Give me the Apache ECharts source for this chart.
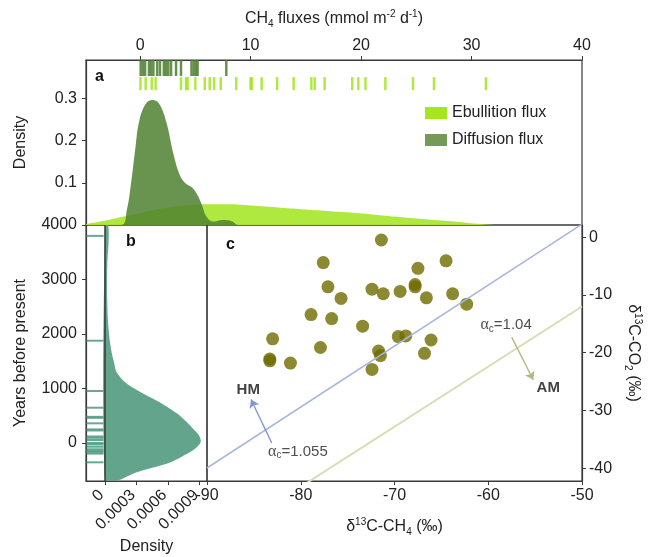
<!DOCTYPE html>
<html>
<head>
<meta charset="utf-8">
<script src="https://cdn.jsdelivr.net/npm/echarts@6/dist/echarts.min.js"></script>
<style>
  html, body { margin: 0; padding: 0; background: #fff; }
  #chart { width: 652px; height: 557px; }
</style>
</head>
<body>
<div id="chart"></div>
<script>
// panel a: density of CH4 fluxes
const ebulX = [-4.9, -3, -1.5, 0, 2, 4, 6, 8, 10, 12.7, 15, 18.7, 21, 24.7, 27, 29.3, 31, 32.5, 40];
const ebulY = [0.002, 0.011, 0.02, 0.028, 0.039, 0.046, 0.049, 0.049, 0.046, 0.041, 0.037, 0.03, 0.025, 0.016, 0.011, 0.006, 0.002, 0, 0];
const diffX = [-4.9, -1.7, -1.2, -0.75, -0.45, -0.06, 0.6, 1.2, 1.8, 2.4, 3.0, 3.6, 4.1, 4.7, 5.1, 5.6, 6.0, 6.6, 7.5, 8.3, 8.9, 40];
const diffY = [0, 0, 0.036, 0.114, 0.178, 0.249, 0.29, 0.296, 0.284, 0.241, 0.17, 0.118, 0.099, 0.089, 0.075, 0.047, 0.02, 0.008, 0.012, 0.009, 0, 0];

// rug values (mmol m-2 d-1)
const diffRug = [0.05, 0.25, 0.45, 0.8, 1.0, 1.2, 1.55, 1.8, 2.15, 2.35, 2.55, 2.8, 3.25, 3.7, 4.65, 4.85, 5.05, 5.2, 7.8];
const ebulRug = [0.03, 0.5, 1.05, 1.4, 3.7, 4.16, 4.3, 5.0, 5.85, 6.3, 6.7, 7.3, 8.7, 10.0, 10.1, 11.0, 12.4, 13.9, 15.5, 15.8, 16.7, 19.2, 19.75, 20.4, 22.2, 24.7, 26.6, 31.3];

// panel b: density of ages
const ageYears = [4000, 3700, 3400, 3000, 2600, 2200, 1900, 1650, 1450, 1300, 1100, 900, 750, 550, 400, 300, 150, 20, -130, -250, -370, -460, -560, -690];
const ageDens = [0.00003, 0.000035, 0.000025, 0.00002, 0.000022, 0.00003, 0.000045, 0.000065, 0.00009, 0.00011, 0.0002, 0.00037, 0.00052, 0.00068, 0.00077, 0.00082, 0.00089, 0.00091, 0.00084, 0.00073, 0.0006, 0.00044, 0.00027, 0.00012];
const ageRug = [3800, 1877, 954, 648, 480, 462, 361, 250, 230, 120, 95, 55, 0, -24, -68, -115, -140, -165, -195, -354];

// panel c: isotopes
const ch4 = [-71.4, -77.6, -64.5, -67.5, -77.1, -72.4, -71.2, -69.4, -67.8, -67.8, -75.7, -66.6, -63.8, -62.3, -78.9, -76.7, -73.4, -69.6, -68.8, -66.1, -83.0, -77.9, -71.7, -71.5, -66.8, -83.3, -83.3, -81.1, -72.4];
const co2 = [-0.5, -4.4, -4.1, -5.4, -8.6, -9.0, -9.8, -9.4, -8.2, -8.6, -10.6, -10.5, -9.8, -11.6, -13.4, -14.1, -15.4, -17.2, -17.1, -17.8, -17.6, -19.1, -19.7, -20.5, -20.1, -21.1, -21.4, -21.8, -22.9];
const hmLine = [[-90, -39.95], [-50, 2.25]];
const amLine = [[-80, -43.2], [-50, -12]];
const hmArrow = [[-83.1, -35.6], [-85.3, -28.1]];
const amArrow = [[-57.5, -17.3], [-55.2, -24.7]];
const noteText = ['{b|HM}', '{b|AM}', '{g|α}{sb|c}{n|=1.055}', '{g|α}{sb|c}{n|=1.04}'];
const noteX = [-85.6, -53.6, -80.3, -58.1];
const noteY = [-26.4, -26.0, -37.1, -15.2];

const fluxTicks = [0, 10, 20, 30, 40];
const densTicks = [0.1, 0.2, 0.3];
const yearTicks = [0, 1000, 2000, 3000, 4000];
const ageDensTicks = [0, 0.0003, 0.0006, 0.0009];
const co2Ticks = [0, -10, -20, -30, -40];

const ink = '#222';
const frame = '#3a3a3a';
const zip = (xs, ys) => xs.map((x, i) => [x, ys[i]]);

const nameRich = {
    n: { fontSize: 16, lineHeight: 20, color: ink },
    sb: { fontSize: 10, lineHeight: 10, verticalAlign: 'bottom', color: ink },
    sp: { fontSize: 10, lineHeight: 10, verticalAlign: 'top', color: ink }
};

const axisBase = {
    axisLine: { show: true, onZero: false, lineStyle: { color: frame, width: 1.2 } },
    axisTick: { show: true, length: 4, lineStyle: { color: frame } },
    splitLine: { show: false },
    axisLabel: { color: ink, fontSize: 16 },
    nameTextStyle: { color: ink, fontSize: 16 }
};

const gridStyle = { show: true, borderColor: frame, borderWidth: 1.2, backgroundColor: 'transparent', outerBoundsMode: 'none' };

var chart = echarts.init(document.getElementById('chart'));
var option = {
    animation: false,
    textStyle: { fontFamily: 'Liberation Sans, Arial, sans-serif' },
    grid: [
        Object.assign({ left: 86, top: 60, width: 496, height: 165 }, gridStyle),
        Object.assign({ left: 86, top: 225, width: 121, height: 256 }, gridStyle),
        Object.assign({ left: 207, top: 225, width: 375, height: 256 }, gridStyle)
    ],
    xAxis: [
        Object.assign({}, axisBase, {
            type: 'value', gridIndex: 0, position: 'top', min: -4.9, max: 40,
            axisTick: Object.assign({}, axisBase.axisTick, { customValues: fluxTicks }),
            axisLabel: Object.assign({}, axisBase.axisLabel, { customValues: fluxTicks, margin: 6 }),
            name: '{n|CH}{sb|4}{n| fluxes (mmol m}{sp|-2}{n| d}{sp|-1}{n|)}',
            nameLocation: 'middle', nameGap: 31,
            nameTextStyle: { rich: nameRich }
        }),
        Object.assign({}, axisBase, {
            type: 'value', gridIndex: 1, min: -0.00018, max: 0.00097,
            axisTick: Object.assign({}, axisBase.axisTick, { customValues: ageDensTicks }),
            axisLabel: Object.assign({}, axisBase.axisLabel, {
                customValues: ageDensTicks, rotate: 45, margin: 8, padding: [0, 5, 0, 0],
                formatter: v => v === 0 ? '0' : v.toFixed(4)
            }),
            name: 'Density', nameLocation: 'middle', nameGap: 58
        }),
        Object.assign({}, axisBase, {
            type: 'value', gridIndex: 2, min: -90, max: -50, interval: 10,
            axisLabel: Object.assign({}, axisBase.axisLabel, { margin: 7 }),
            name: '{n|δ}{sp|13}{n|C-CH}{sb|4}{n| (‰)}',
            nameLocation: 'middle', nameGap: 36,
            nameTextStyle: { rich: nameRich }
        })
    ],
    yAxis: [
        Object.assign({}, axisBase, {
            type: 'value', gridIndex: 0, min: 0, max: 0.391,
            axisTick: Object.assign({}, axisBase.axisTick, { customValues: densTicks }),
            axisLabel: Object.assign({}, axisBase.axisLabel, { customValues: densTicks, margin: 9 }),
            name: 'Density', nameLocation: 'middle', nameGap: 57
        }),
        Object.assign({}, axisBase, {
            type: 'value', gridIndex: 1, min: -697, max: 4000,
            axisTick: Object.assign({}, axisBase.axisTick, { customValues: yearTicks }),
            axisLabel: Object.assign({}, axisBase.axisLabel, {
                customValues: yearTicks, margin: 9,
                formatter: v => String(v)
            }),
            name: 'Years before present', nameLocation: 'middle', nameGap: 57
        }),
        Object.assign({}, axisBase, {
            type: 'value', gridIndex: 2, position: 'right', min: -42.2, max: 2.1,
            axisTick: Object.assign({}, axisBase.axisTick, { customValues: co2Ticks }),
            axisLabel: Object.assign({}, axisBase.axisLabel, { customValues: co2Ticks, margin: 7 }),
            name: '{n|δ}{sp|13}{n|C-CO}{sb|2}{n| (‰)}',
            nameLocation: 'middle', nameGap: 40, nameRotate: -90,
            nameTextStyle: { rich: nameRich }
        })
    ],
    legend: {
        left: 420, top: 100, orient: 'vertical',
        itemWidth: 22, itemHeight: 12, itemGap: 11,
        icon: 'rect',
        textStyle: { color: ink, fontSize: 16 },
        data: [
            { name: 'Ebullition flux', itemStyle: { color: '#a6e61e' } },
            { name: 'Diffusion flux', itemStyle: { color: '#76995a' } }
        ],
        selectedMode: false
    },
    graphic: [
        { type: 'text', left: 95, top: 69, style: { text: 'a', font: 'bold 16px Liberation Sans', fill: '#111' } },
        { type: 'text', left: 126, top: 234, style: { text: 'b', font: 'bold 16px Liberation Sans', fill: '#111' } },
        { type: 'text', left: 226, top: 237, style: { text: 'c', font: 'bold 16px Liberation Sans', fill: '#111' } }
    ],
    series: [
        {
            name: 'Ebullition flux', type: 'line', xAxisIndex: 0, yAxisIndex: 0,
            data: zip(ebulX, ebulY), smooth: 0.4, showSymbol: false, silent: true,
            itemStyle: { color: '#a6e61e' },
            lineStyle: { width: 0 },
            areaStyle: { color: '#abe835', opacity: 0.95 }
        },
        {
            name: 'Diffusion flux', type: 'line', xAxisIndex: 0, yAxisIndex: 0,
            data: zip(diffX, diffY), smooth: 0.4, showSymbol: false, silent: true,
            itemStyle: { color: '#76995a' },
            lineStyle: { width: 0 },
            areaStyle: { color: '#4f8130', opacity: 0.85 }
        },
        {
            type: 'scatter', xAxisIndex: 0, yAxisIndex: 0, silent: true,
            symbol: 'rect', symbolSize: [2.5, 16],
            itemStyle: { color: '#4e7d30', opacity: 0.85 },
            data: diffRug.map(v => [v, 0.372])
        },
        {
            type: 'scatter', xAxisIndex: 0, yAxisIndex: 0, silent: true,
            symbol: 'rect', symbolSize: [2.5, 13],
            itemStyle: { color: '#9ee313' },
            data: ebulRug.map(v => [v, 0.335])
        },
        {
            type: 'custom', xAxisIndex: 1, yAxisIndex: 1, silent: true, clip: true,
            data: [[0, 0]],
            renderItem: function (params, api) {
                const pts = ageDens.map((d, i) => api.coord([d, ageYears[i]]));
                pts.push(api.coord([0, ageYears[ageYears.length - 1]]));
                pts.push(api.coord([0, ageYears[0]]));
                return {
                    type: 'polygon',
                    shape: { points: pts, smooth: 0.3 },
                    style: { fill: '#62a58c' }
                };
            }
        },
        {
            type: 'scatter', xAxisIndex: 1, yAxisIndex: 1, silent: true,
            symbol: 'rect', symbolSize: [17, 2],
            itemStyle: { color: '#4f9a80', opacity: 0.85 },
            data: ageRug.map(v => [-0.000094, v]),
            markLine: {
                silent: true, symbol: 'none', label: { show: false },
                lineStyle: { color: frame, width: 1.5, type: 'solid' },
                data: [{ xAxis: 0 }]
            }
        },
        {
            type: 'line', xAxisIndex: 2, yAxisIndex: 2, silent: true,
            data: hmLine, showSymbol: false,
            lineStyle: { color: '#a9b5dd', width: 1.5 },
            markLine: {
                silent: true, symbol: ['none', 'arrow'], symbolSize: 8, label: { show: false },
                lineStyle: { color: '#8196cc', width: 1.3, type: 'solid' },
                data: [[{ coord: hmArrow[0] }, { coord: hmArrow[1] }]]
            }
        },
        {
            type: 'line', xAxisIndex: 2, yAxisIndex: 2, silent: true,
            data: amLine, showSymbol: false,
            lineStyle: { color: '#d9dcb4', width: 2 },
            markLine: {
                silent: true, symbol: ['none', 'arrow'], symbolSize: 8, label: { show: false },
                lineStyle: { color: '#b3b781', width: 1.3, type: 'solid' },
                data: [[{ coord: amArrow[0] }, { coord: amArrow[1] }]]
            }
        },
        {
            type: 'scatter', xAxisIndex: 2, yAxisIndex: 2, silent: true,
            symbolSize: 13,
            itemStyle: { color: '#6f6b00', opacity: 0.8 },
            data: zip(ch4, co2)
        },
        {
            type: 'scatter', xAxisIndex: 2, yAxisIndex: 2, silent: true,
            symbolSize: 0,
            data: noteText.map((t, i) => ({ value: [noteX[i], noteY[i]], label: { formatter: t } })),
            label: {
                show: true, position: 'inside',
                rich: {
                    b: { fontSize: 15, fontWeight: 'bold', color: '#111' },
                    g: { fontSize: 16, fontFamily: 'Liberation Serif', color: ink, lineHeight: 18 },
                    sb: { fontSize: 10, lineHeight: 9, verticalAlign: 'bottom', color: ink },
                    n: { fontSize: 15, color: ink, lineHeight: 18 }
                }
            }
        }
    ]
};
chart.setOption(option);
</script>
</body>
</html>
